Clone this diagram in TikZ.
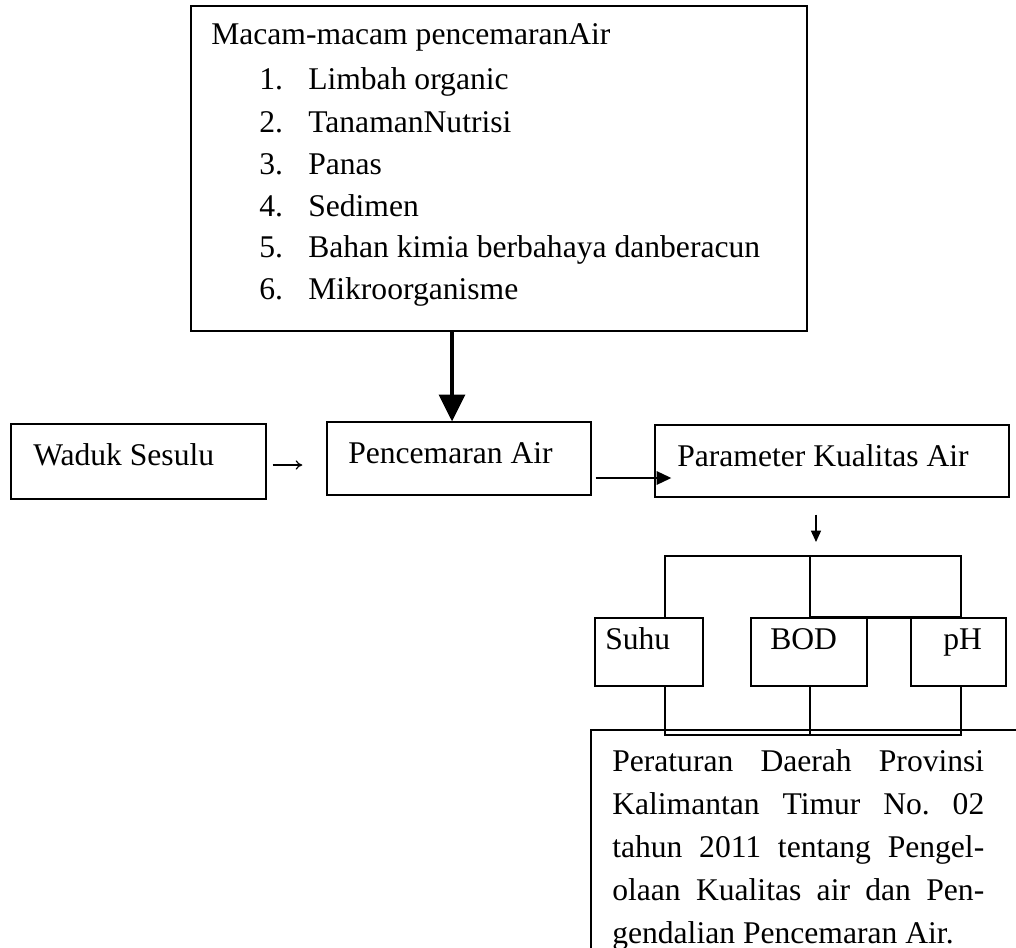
\documentclass[tikz,border=0pt]{standalone}
\usepackage{fontspec}
\setmainfont{Liberation Serif}
\usetikzlibrary{arrows.meta,fit}
\newcommand\fsz{\fontsize{23.7}{28}\selectfont}
\frenchspacing
\begin{document}
\begin{tikzpicture}[x=0.75pt,y=-0.75pt,
  box/.style={draw, line width=1pt, inner sep=0pt},
  lbl/.style={anchor=base west, inner sep=0pt, font=\fsz},
  thinline/.style={line width=1pt},
  bigarrow/.style={line width=2.3pt, -{Triangle[length=20pt,width=19.5pt]}},
  midarrow/.style={line width=1.5pt, -{Triangle[length=11pt,width=10pt]}},
  smallarrow/.style={line width=1pt, -{Triangle[length=8.5pt,width=7.5pt]}},
  tinyarrow/.style={line width=0.9pt, -{To[length=5pt,width=7pt]}}]
\clip (0,0) rectangle (1016,948);
\fill[white] (0,0) rectangle (1016,948);

% boxes
\node[box, fit={(191,6) (807,331)}] (top) {};
\node[box, fit={(11,424) (266,499)}] (wad) {};
\node[box, fit={(327,422) (591,495)}] (pcm) {};
\node[box, fit={(655,425) (1009,497)}] (par) {};
\node[box, fit={(595,618) (703,686)}] (suhu) {};
\node[box, fit={(751,618) (867,686)}] (bod) {};
\node[box, fit={(911,618) (1006,686)}] (ph) {};
\node[box, fit={(591,730) (1040,980)}] (perda) {};

% texts
\node[lbl] (title) at (211,45) {Macam-macam pencemaranAir};
\node[lbl] (n1) at (259,90) {1.};  \node[lbl] (i1) at (308,90) {Limbah organic};
\node[lbl] (n2) at (259,133) {2.}; \node[lbl] (i2) at (308,133) {TanamanNutrisi};
\node[lbl] (n3) at (259,175) {3.}; \node[lbl] (i3) at (308,175) {Panas};
\node[lbl] (n4) at (259,217) {4.}; \node[lbl] (i4) at (308,217) {Sedimen};
\node[lbl] (n5) at (259,258) {5.}; \node[lbl] (i5) at (308,258) {Bahan kimia berbahaya danberacun};
\node[lbl] (n6) at (259,300) {6.}; \node[lbl] (i6) at (308,300) {Mikroorganisme};

\node[lbl] (twad) at (33,465) {Waduk Sesulu};
\node[lbl] (tpcm) at (348,463) {Pencemaran Air};
\node[lbl] (tpar) at (677,466) {Parameter Kualitas Air};
\node[lbl] (tsuhu) at (605,649) {Suhu};
\node[lbl] (tbod) at (770,649) {BOD};
\node[lbl] (tph) at (943,649) {pH};

\node[lbl] (p1) at (612,771) {\makebox[279pt][s]{Peraturan Daerah Provinsi}};
\node[lbl] (p2) at (612,814) {\makebox[279pt][s]{Kalimantan Timur No. 02}};
\node[lbl] (p3) at (612,857) {\makebox[279pt][s]{tahun 2011 tentang Pengel-}};
\node[lbl] (p4) at (612,900) {\makebox[279pt][s]{olaan Kualitas air dan Pen-}};
\node[lbl] (p5) at (612,943) {gendalian Pencemaran Air.};

% helper coordinates
\coordinate (ax) at (452,0);
\coordinate (ay) at (0,478);
\coordinate (dx) at (816,0);
\coordinate (b1) at (665,556);
\coordinate (b2) at (810,556);
\coordinate (b3) at (961,556);
\coordinate (jy) at (0,735);

% arrows
\draw[bigarrow] (top.south -| ax) -- (pcm.north -| ax);
\draw[tinyarrow, shorten <=4.5pt, shorten >=18pt] (twad.base -| wad.east) -- (twad.base -| pcm.west);
\draw[midarrow, shorten <=3pt, shorten >=-12.75pt] (pcm.east |- ay) -- (par.west |- ay);
\draw[smallarrow, shorten <=12.75pt, shorten >=10.5pt] (par.south -| dx) -- (b2 -| dx);

% bracket above small boxes
\draw[thinline] (b1 |- suhu.north) -- (b1) -- (b3) -- (b3 |- ph.north);
\draw[thinline] (b2) -- (b2 |- bod.north);
\draw[line width=2.2pt] (b2 |- bod.north) -- ([xshift=-0.75pt]b3 |- ph.north);

% connectors below small boxes
\draw[thinline] (b1 |- suhu.south) -- (b1 |- jy) -- (b3 |- jy) -- (b3 |- ph.south);
\draw[thinline] (b2 |- bod.south) -- (b2 |- jy);
\end{tikzpicture}
\end{document}
